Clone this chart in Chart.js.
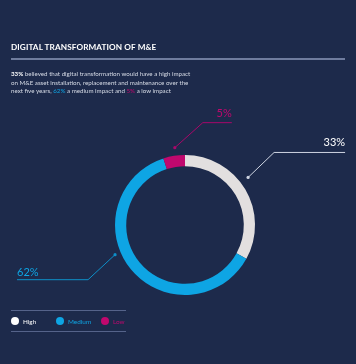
<!DOCTYPE html>
<html><head><meta charset="utf-8">
<script src="https://cdn.jsdelivr.net/npm/chart.js@4/dist/chart.umd.min.js"></script>
<style>
html,body{margin:0;padding:0;background:#1d2a4b;width:356px;height:364px;overflow:hidden;font-family:Lato,"Open Sans",sans-serif;color:#fff}
#wrap{position:relative;width:356px;height:364px}
canvas{position:absolute;left:0;top:0}
.title{position:absolute;left:11px;top:42px;font-size:8.2px;font-weight:700;letter-spacing:0.1px;white-space:nowrap}
.rule{position:absolute;left:11px;top:58px;width:334px;height:2px;background:#6f7c9e}
.para{position:absolute;left:11px;top:70px;font-size:6.2px;line-height:8.6px;color:#d6dbe6;white-space:nowrap}
.para b{color:#fff}
.leg{position:absolute;left:11px;top:310px;width:115px;height:22px;border-top:1px solid #55638a;border-bottom:1px solid #55638a;box-sizing:border-box}
.item{position:absolute;top:6px;font-size:6.4px;line-height:9px;white-space:nowrap}
.dot{display:inline-block;width:8px;height:8px;border-radius:50%;vertical-align:middle;margin-right:4px;position:relative;top:-1px}
</style></head>
<body><div id="wrap">
<canvas id="c" width="356" height="364"></canvas>
<div class="title">DIGITAL TRANSFORMATION OF M&amp;E</div>
<div class="rule"></div>
<div class="para"><b>33%</b> believed that digital transformation would have a high impact<br>on M&amp;E asset installation, replacement and maintenance over the<br>next five years, <span style="color:#0ea5e4">62%</span> a medium impact and <span style="color:#c0086e">5%</span> a low impact</div>
<div class="leg" id="leg"></div>
</div>
<script>
const categories = ["High", "Medium", "Low"];
const values = [33, 62, 5];
const labels = ["33%", "62%", "5%"];
const colors = ["#e2dfdf", "#0ea5e4", "#c0086e"];
const textColors = ["#ffffff", "#0ea5e4", "#c0086e"];
const lineColors = ["#cfd5e2", "#0e8fc8", "#a8086a"];

// legend
const leg = document.getElementById('leg');
const legX = [0, 45, 90];
categories.forEach((c,i)=>{
  const d=document.createElement('div');d.className='item';d.style.left=legX[i]+'px';
  d.innerHTML='<span class="dot" style="background:'+(i==0?'#fff':colors[i])+'"></span><span style="color:'+textColors[i]+'">'+c+'</span>';
  leg.appendChild(d);
});

// callout styling: anchor angle (deg from 12 o'clock, clockwise), gap beyond outer radius, elbow offset, horizontal run
const callouts = [
  {angle: 53, gap: 9, elbow: [26, -25], run: 71, dir: 1},
  {angle: 247, gap: 6, elbow: [-27, 25], run: -71, dir: -1},
  {angle: 352.5, gap: 8, elbow: [28, -25], run: 29, dir: 1}
];

const calloutPlugin = {
  id: 'callouts',
  afterDatasetsDraw(chart){
    const ctx = chart.ctx;
    const meta = chart.getDatasetMeta(0);
    meta.data.forEach((arc,i)=>{
      const co = callouts[i];
      const a = co.angle*Math.PI/180;
      const r = arc.outerRadius + co.gap;
      const x0 = arc.x + Math.sin(a)*r, y0 = arc.y - Math.cos(a)*r;
      const x1 = x0 + co.elbow[0], y1 = y0 + co.elbow[1];
      const x2 = x1 + co.run;
      ctx.save();
      ctx.strokeStyle = lineColors[i]; ctx.fillStyle = lineColors[i];
      ctx.lineWidth = 1;
      ctx.beginPath(); ctx.moveTo(x0,y0); ctx.lineTo(x1,y1); ctx.lineTo(x2,y1); ctx.stroke();
      ctx.beginPath(); ctx.arc(x0,y0,1.6,0,Math.PI*2); ctx.fill();
      ctx.fillStyle = textColors[i];
      ctx.font = '11px Lato, "Open Sans", sans-serif';
      ctx.textBaseline = 'alphabetic';
      if (co.dir > 0) { ctx.textAlign = 'right'; ctx.fillText(labels[i], x2, y1 - 6); }
      else { ctx.textAlign = 'left'; ctx.fillText(labels[i], x2, y1 - 4); }
      ctx.restore();
    });
  }
};

new Chart(document.getElementById('c'), {
  type: 'doughnut',
  data: { labels: categories, datasets: [{ data: values, backgroundColor: colors, borderWidth: 0 }] },
  options: {
    responsive: false, animation: false, cutout: '84%', rotation: 0,
    layout: { padding: { left: 115, top: 155, right: 101, bottom: 69 } },
    plugins: { legend: { display: false }, tooltip: { enabled: false } }
  },
  plugins: [calloutPlugin]
});
</script>
</body></html>
